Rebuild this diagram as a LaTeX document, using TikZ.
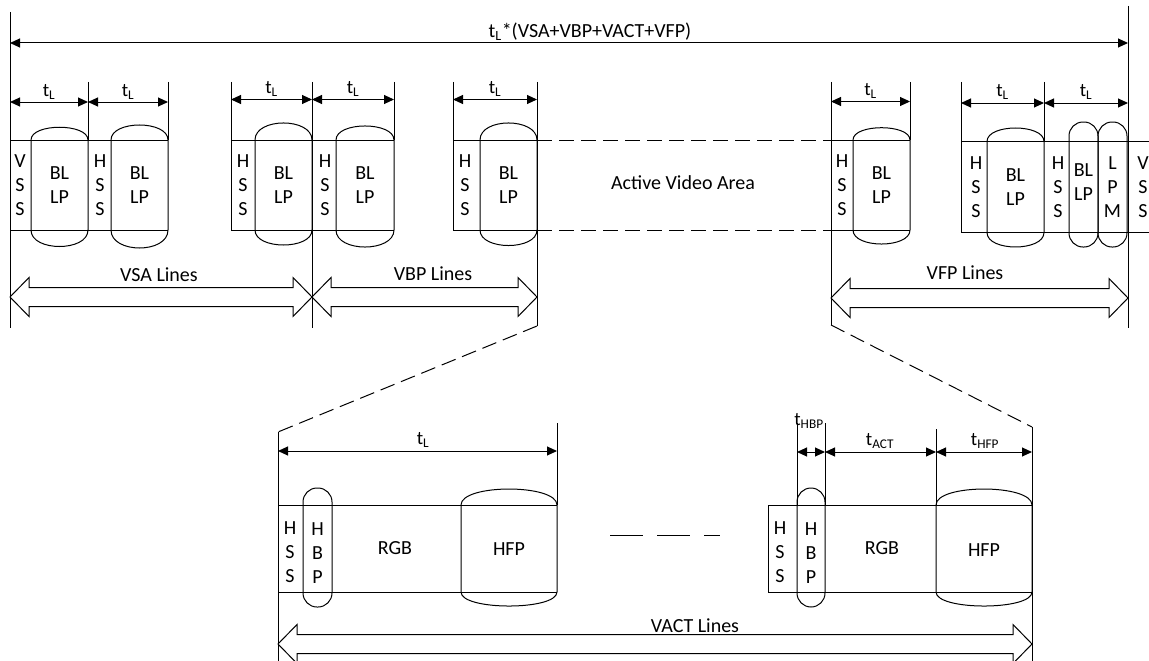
\documentclass[tikz,border=0pt]{standalone}
\usepackage{fontspec}
\setmainfont{Carlito}
\usetikzlibrary{arrows.meta}
\newcommand\bpill[6]{% x1, x2, strip top, strip bottom, top bulge, bottom bulge
  \draw (#1,#3) -- (#1,#4) .. controls (#1,#4+#6) and (#2,#4+#6) .. (#2,#4)
        -- (#2,#3) .. controls (#2,#3-#5) and (#1,#3-#5) .. cycle;}
\newcommand\rpill[4]{% x1, y1, x2, y2
  \draw[rounded corners=14pt] (#1,#2) rectangle (#3,#4);}
\newcommand\barrow[3]{% x1, x2, y centre
  \draw (#1,#3) -- (#1+19,#3-19.5) -- (#1+19,#3-9.5) -- (#2-19,#3-9.5) -- (#2-19,#3-19.5)
        -- (#2,#3) -- (#2-19,#3+19.5) -- (#2-19,#3+9.5) -- (#1+19,#3+9.5) -- (#1+19,#3+19.5) -- cycle;}
\begin{document}
\begin{tikzpicture}[x=1pt,y=-1pt,line width=1pt,line join=miter,
  lbl/.style={font=\fontsize{20pt}{24pt}\selectfont,inner sep=0pt,align=center},
  tlab/.style={font=\fontsize{19pt}{22pt}\selectfont,inner sep=0pt},
  dim/.style={{Triangle[length=10pt,width=9pt]}-{Triangle[length=10pt,width=9pt]}},
  dsh/.style={dash pattern=on 15pt off 7pt},
  dshlong/.style={dash pattern=on 33pt off 14pt}]
\useasboundingbox (0,0) rectangle (1149,661);

% ---------- overall frame ----------
\coordinate (L0) at (10,43);
\coordinate (R0) at (1128,43);
\draw (10,12) -- (10,328);
\draw (1128,6) -- (1128,328);
\draw[dim] (L0) -- (R0);
\node[lbl] (total) at (590,32) {t\textsubscript{L}*(VSA+VBP+VACT+VFP)};

% ---------- group 1 (VSA) ----------
\draw (88,82) -- (88,140);
\draw (168,82) -- (168,140);
\draw[dim] (10,102) -- (88,102);
\draw[dim] (88,102) -- (168,102);
\node[tlab] (t1) at (49,92) {t\textsubscript{L}};
\node[tlab] (t2) at (128,92) {t\textsubscript{L}};
\draw (10,140) -- (168,140);
\draw (10,230) -- (168,230);
\bpill{31}{88}{140}{230}{17}{22}
\bpill{111}{168}{140}{230}{20}{24}
\node[lbl] (vss1) at (20,185) {V\\S\\S};
\node[lbl] (bl1) at (59.5,185) {BL\\LP};
\node[lbl] (hss1) at (100,185) {H\\S\\S};
\node[lbl] (bl2) at (139.5,185) {BL\\LP};

% ---------- group 2 ----------
\draw (231,82) -- (231,230);
\draw (312,82) -- (312,328);
\draw (394,82) -- (394,140);
\draw[dim] (231,99.5) -- (312,99.5);
\draw[dim] (312,99.5) -- (394,99.5);
\node[tlab] (t3) at (271.5,89) {t\textsubscript{L}};
\node[tlab] (t4) at (353,89) {t\textsubscript{L}};
\draw (231,140) -- (394,140);
\draw (231,230) -- (394,230);
\bpill{255}{312}{140}{230}{22.7}{20}
\bpill{336}{394}{140}{230}{18.7}{22.7}
\node[lbl] (hss2) at (243,185) {H\\S\\S};
\node[lbl] (bl3) at (283.5,185) {BL\\LP};
\node[lbl] (hss3) at (325,185) {H\\S\\S};
\node[lbl] (bl4) at (365,185) {BL\\LP};

% ---------- group 3 ----------
\draw (453,82) -- (453,230);
\draw (537,82) -- (537,326);
\draw[dim] (453,99.5) -- (537,99.5);
\node[tlab] (t5) at (495,89) {t\textsubscript{L}};
\draw (453,140) -- (537,140);
\draw (453,230) -- (537,230);
\bpill{480}{537}{140}{230}{22.7}{20.7}
\node[lbl] (hss4) at (465,185) {H\\S\\S};
\node[lbl] (bl5) at (508.5,185) {BL\\LP};

% ---------- active video area ----------
\draw[dsh] (537,140) -- (831,140);
\draw[dsh] (537,230) -- (831,230);
\node[lbl] (ava) at (683,183) {Active Video Area};

% ---------- group 4 ----------
\draw (831,82) -- (831,325);
\draw (910,82) -- (910,140);
\draw[dim] (831,101.5) -- (910,101.5);
\node[tlab] (t6) at (870.5,91) {t\textsubscript{L}};
\draw (831,140) -- (910,140);
\draw (831,230) -- (910,230);
\bpill{853}{910}{140}{230}{16.4}{18.7}
\node[lbl] (hss5) at (842,185) {H\\S\\S};
\node[lbl] (bl6) at (881.5,185) {BL\\LP};

% ---------- group 5 ----------
\draw (961,82) -- (961,232.5);
\draw (1044,82) -- (1044,141.5);
\draw[dim] (961,103) -- (1044,103);
\draw[dim] (1044,103) -- (1128,103);
\node[tlab] (t7) at (1002.5,92) {t\textsubscript{L}};
\node[tlab] (t8) at (1086,92) {t\textsubscript{L}};
\draw (961,141.5) -- (1149,141.5);
\draw (961,232.5) -- (1149,232.5);
\bpill{987}{1044}{141.5}{232.5}{18}{19.3}
\rpill{1069}{122}{1098}{247}
\rpill{1098}{122}{1127}{247}
\node[lbl] (hss6) at (976,187) {H\\S\\S};
\node[lbl] (bl7) at (1015.5,187) {BL\\LP};
\node[lbl] (hss7) at (1058,187) {H\\S\\S};
\node[lbl] (bl8) at (1083.5,182) {BL\\LP};
\node[lbl] (lpm) at (1112.5,187) {L\\P\\M};
\node[lbl] (vss2) at (1143,187) {V\\S\\S};

% ---------- block arrows ----------
\barrow{10}{312}{297}
\barrow{312}{537}{297}
\barrow{831}{1128}{298}
\node[lbl] (vsa) at (159,275) {VSA Lines};
\node[lbl] (vbp) at (433,274) {VBP Lines};
\node[lbl] (vfp) at (965,273) {VFP Lines};

% ---------- zoom lines ----------
\draw[dsh] (537,326) -- (278,432);
\draw[dsh] (831,325) -- (1032,427);

% ---------- bottom left line ----------
\draw (278,432) -- (278,661);
\draw (557,423) -- (557,505);
\draw[dim] (278,451) -- (557,451);
\node[tlab] (t9) at (423,440) {t\textsubscript{L}};
\draw (278,505) -- (557,505);
\draw (278,592) -- (557,592);
\rpill{303}{488}{332}{607}
\bpill{461}{557}{505}{592}{21.3}{18.7}
\node[lbl] (hss8) at (290,552) {H\\S\\S};
\node[lbl] (hbp1) at (317.5,553) {H\\B\\P};
\node[lbl] (rgb1) at (395,548) {RGB};
\node[lbl] (hfp1) at (509,549) {HFP};

\draw[dshlong] (610,535) -- (720,535);

% ---------- bottom right line ----------
\draw (1032,427) -- (1032,661);
\draw (797,423) -- (797,505);
\draw (825,423) -- (825,505);
\draw (936,429) -- (936,505);
\draw[dim] (797,452) -- (825,452);
\draw[dim] (825,452) -- (936,452);
\draw[dim] (936,452) -- (1032,452);
\node[tlab] (thbp) at (809,421) {t\textsubscript{HBP}};
\node[tlab] (tact) at (880,441) {t\textsubscript{ACT}};
\node[tlab] (thfp) at (985,441) {t\textsubscript{HFP}};
\draw (1032,505) -- (768,505) -- (768,592) -- (1032,592);
\rpill{797}{488}{825}{607}
\bpill{936}{1032}{505}{592}{21.3}{18.7}
\node[lbl] (hss9) at (780,552) {H\\S\\S};
\node[lbl] (hbp2) at (811,553) {H\\B\\P};
\node[lbl] (rgb2) at (882,548) {RGB};
\node[lbl] (hfp2) at (984,550) {HFP};

% ---------- VACT ----------
\barrow{278}{1032}{644}
\node[lbl] (vact) at (695,626) {VACT Lines};
\end{tikzpicture}
\end{document}
